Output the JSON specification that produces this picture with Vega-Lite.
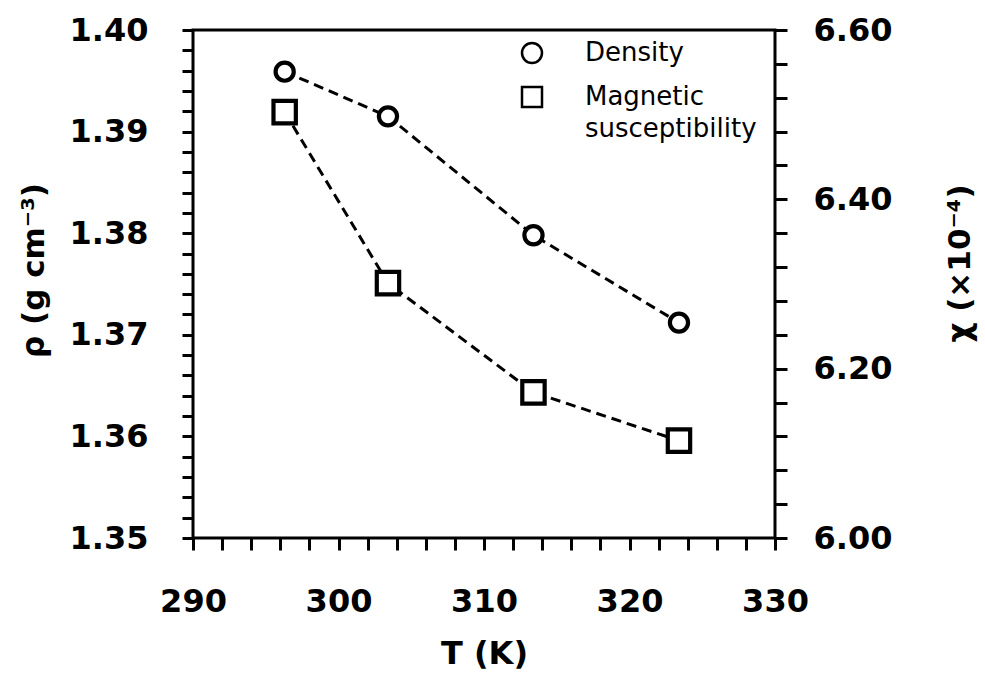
{
  "$schema": "https://vega.github.io/schema/vega-lite/v6.json",
  "width": 582,
  "height": 508,
  "autosize": {"type": "none"},
  "padding": {"left": 193, "top": 30, "right": 210, "bottom": 141},
  "background": "white",
  "config": {
    "font": "DejaVu Sans",
    "view": {"stroke": "black", "strokeWidth": 3},
    "style": {"guide-label": {"lineHeight": 32}}
  },
  "data": {
    "values": [
      {"T": 296.3, "series": "Density", "value": 1.3959},
      {"T": 303.4, "series": "Density", "value": 1.3915},
      {"T": 313.4, "series": "Density", "value": 1.3798},
      {"T": 323.4, "series": "Density", "value": 1.3712},
      {"T": 296.3, "series": "Magnetic susceptibility", "value": 6.503},
      {"T": 303.4, "series": "Magnetic susceptibility", "value": 6.301},
      {"T": 313.4, "series": "Magnetic susceptibility", "value": 6.172},
      {"T": 323.4, "series": "Magnetic susceptibility", "value": 6.115}
    ]
  },
  "encoding": {
    "x": {
      "field": "T",
      "type": "quantitative",
      "scale": {"domain": [290, 330], "nice": false, "zero": false},
      "axis": {
        "title": "T (K)",
        "values": [290,292,294,296,298,300,302,304,306,308,310,312,314,316,318,320,322,324,326,328,330],
        "labelExpr": "datum.value % 10 === 0 ? format(datum.value, 'd') : ''",
        "domain": false,
        "grid": false,
        "tickSize": 12,
        "tickWidth": 3,
        "tickColor": "black",
        "labelFont": "DejaVu Sans",
        "labelFontWeight": "bold",
        "labelFontSize": 32,
        "labelColor": "black",
        "labelPadding": 36,
        "labelOverlap": false,
        "labelFlush": false,
        "titleFont": "DejaVu Sans",
        "titleFontWeight": "bold",
        "titleFontSize": 32,
        "titleColor": "black",
        "titleBaseline": "top",
        "titleY": 100
      }
    }
  },
  "layer": [
    {
      "transform": [{"filter": "datum.series === 'Density'"}],
      "encoding": {
        "y": {
          "field": "value",
          "type": "quantitative",
          "scale": {"domain": [1.35, 1.40], "nice": false, "zero": false},
          "axis": {
            "orient": "left",
            "title": "ρ (g cm⁻³)",
            "values": [1.35,1.352,1.354,1.356,1.358,1.36,1.362,1.364,1.366,1.368,1.37,1.372,1.374,1.376,1.378,1.38,1.382,1.384,1.386,1.388,1.39,1.392,1.394,1.396,1.398,1.4],
            "labelExpr": "abs(datum.value*100 - round(datum.value*100)) < 0.001 ? format(datum.value, '.2f') : ''",
            "domain": false,
            "grid": false,
            "tickSize": 11,
            "tickWidth": 3,
            "tickColor": "black",
            "labelFont": "DejaVu Sans",
            "labelFontWeight": "bold",
            "labelFontSize": 32,
            "labelColor": "black",
            "labelPadding": 34,
            "labelOverlap": false,
            "labelFlush": false,
            "titleFont": "DejaVu Sans",
            "titleFontWeight": "bold",
            "titleFontSize": 31,
            "titleColor": "black",
            "titleAngle": 270,
            "titleBaseline": "bottom",
            "titleAlign": "center",
            "titleX": -143,
            "titleY": 240
          }
        }
      },
      "layer": [
        {"mark": {"type": "line", "color": "black", "strokeWidth": 3, "strokeDash": [10, 6]}},
        {
          "mark": {"type": "point", "filled": false, "fill": "white", "stroke": "black", "strokeWidth": 4.2, "size": 330, "opacity": 1},
          "encoding": {
            "shape": {
              "field": "series",
              "type": "nominal",
              "scale": {"domain": ["Density", "Magnetic susceptibility"], "range": ["circle", "square"]},
              "legend": {
                "title": null,
                "orient": "none",
                "legendX": 326,
                "legendY": 10,
                "padding": 0,
                "symbolSize": 400,
                "symbolStrokeWidth": 2.5,
                "labelFont": "DejaVu Sans",
                "labelFontSize": 26,
                "labelColor": "black",
                "labelOffset": 40,
                "labelLimit": 500,
                "rowPadding": 14,
                "labelExpr": "datum.label === 'Magnetic susceptibility' ? ['Magnetic', 'susceptibility'] : datum.label"
              }
            }
          }
        }
      ]
    },
    {
      "transform": [{"filter": "datum.series === 'Magnetic susceptibility'"}],
      "encoding": {
        "y": {
          "field": "value",
          "type": "quantitative",
          "scale": {"domain": [6.0, 6.6], "nice": false, "zero": false},
          "axis": {
            "orient": "right",
            "title": "χ (×10⁻⁴)",
            "values": [6,6.04,6.08,6.12,6.16,6.2,6.24,6.28,6.32,6.36,6.4,6.44,6.48,6.52,6.56,6.6],
            "labelExpr": "abs(datum.value*5 - round(datum.value*5)) < 0.001 ? format(datum.value, '.2f') : ''",
            "domain": false,
            "grid": false,
            "tickSize": 12,
            "tickWidth": 3,
            "tickColor": "black",
            "labelFont": "DejaVu Sans",
            "labelFontWeight": "bold",
            "labelFontSize": 32,
            "labelColor": "black",
            "labelPadding": 26,
            "labelOverlap": false,
            "labelFlush": false,
            "titleFont": "DejaVu Sans",
            "titleFontWeight": "bold",
            "titleFontSize": 31,
            "titleColor": "black",
            "titleAngle": 270,
            "titleBaseline": "top",
            "titleAlign": "center",
            "titleX": 170,
            "titleY": 233
          }
        }
      },
      "layer": [
        {"mark": {"type": "line", "color": "black", "strokeWidth": 3, "strokeDash": [10, 6]}},
        {
          "mark": {"type": "point", "filled": false, "fill": "white", "stroke": "black", "strokeWidth": 4.2, "size": 500, "opacity": 1},
          "encoding": {
            "shape": {
              "field": "series",
              "type": "nominal",
              "scale": {"domain": ["Density", "Magnetic susceptibility"], "range": ["circle", "square"]},
              "legend": {
                "title": null,
                "orient": "none",
                "legendX": 326,
                "legendY": 10,
                "padding": 0,
                "symbolSize": 400,
                "symbolStrokeWidth": 2.5,
                "labelFont": "DejaVu Sans",
                "labelFontSize": 26,
                "labelColor": "black",
                "labelOffset": 40,
                "labelLimit": 500,
                "rowPadding": 14,
                "labelExpr": "datum.label === 'Magnetic susceptibility' ? ['Magnetic', 'susceptibility'] : datum.label"
              }
            }
          }
        }
      ]
    }
  ],
  "resolve": {"scale": {"y": "independent"}}
}
